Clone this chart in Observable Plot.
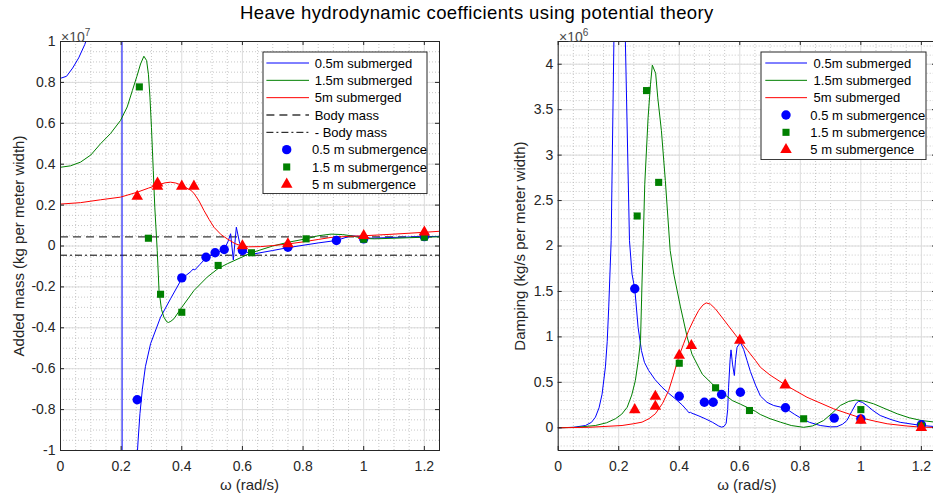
<!DOCTYPE html>
<html><head><meta charset="utf-8">
<script src="https://cdn.jsdelivr.net/npm/d3@7"></script>
<script src="https://cdn.jsdelivr.net/npm/@observablehq/plot@0.6"></script>
<style>
html,body{margin:0;padding:0;background:#fff;overflow:hidden}
#wrap{position:relative;width:933px;height:495px;overflow:hidden;font-family:"Liberation Sans",Arial,Helvetica,sans-serif;color:#262626}
.abs{position:absolute;white-space:nowrap}
</style></head><body><div id="wrap"></div>
<script>
// ---------- data ----------
const titleText = "Heave hydrodynamic coefficients using potential theory";
const xLabel = "ω (rad/s)";
const addedMassLabel = "Added mass (kg per meter width)";
const dampingLabel = "Damping (kg/s per meter width)";
const xTicks = [0, 0.2, 0.4, 0.6, 0.8, 1, 1.2];
const addedMassTicks = [-1, -0.8, -0.6, -0.4, -0.2, 0, 0.2, 0.4, 0.6, 0.8, 1];
const dampingTicks = [0, 0.5, 1, 1.5, 2, 2.5, 3, 3.5, 4];
const xDomain = [0, 1.25];
const addedMassDomain = [-1, 1];      // x 1e7
const dampingDomain = [-0.25, 4.25];  // x 1e6
const bodyMass = 0.045;               // x 1e7
const lineLabels = ["0.5m submerged", "1.5m submerged", "5m submerged"];
const bodyMassLabels = ["Body mass", "- Body mass"];
const markerLabels = ["0.5 m submergence", "1.5 m submergence", "5 m submergence"];

// Added mass curves (omega, value x1e7)
const amLine05 = [[0,0.82],[0.02,0.83],[0.04,0.87],[0.06,0.92],[0.08,0.985],[0.09,1.03],[0.12,1.3],[0.15,1.9],[0.18,3.5],[0.199,20],[0.207,-20],[0.24,-3],[0.252,-1.05],[0.256,-0.95],[0.262,-0.82],[0.27,-0.7],[0.28,-0.59],[0.297,-0.478],[0.33,-0.348],[0.363,-0.258],[0.40,-0.16],[0.43,-0.125],[0.437,-0.113],[0.443,-0.117],[0.46,-0.09],[0.48,-0.058],[0.51,-0.035],[0.54,-0.017],[0.552,0.02],[0.561,0.06],[0.57,-0.068],[0.58,0.092],[0.59,0.02],[0.6,-0.022],[0.633,-0.04],[0.7,-0.022],[0.75,-0.008],[0.85,0.015],[0.91,0.027],[0.958,0.05],[0.99,0.046],[1.024,0.038],[1.1,0.042],[1.2,0.046],[1.25,0.047]];
const amLine15 = [[0,0.385],[0.033,0.392],[0.066,0.41],[0.1,0.445],[0.132,0.5],[0.165,0.55],[0.198,0.614],[0.22,0.68],[0.237,0.76],[0.252,0.83],[0.264,0.89],[0.275,0.928],[0.284,0.907],[0.29,0.84],[0.295,0.728],[0.3,0.58],[0.306,0.369],[0.311,0.19],[0.319,-0.022],[0.325,-0.218],[0.333,-0.31],[0.341,-0.348],[0.35,-0.37],[0.356,-0.374],[0.364,-0.368],[0.374,-0.356],[0.40,-0.30],[0.44,-0.218],[0.484,-0.152],[0.52,-0.11],[0.55,-0.087],[0.63,-0.033],[0.7,0.0],[0.75,0.018],[0.81,0.035],[0.85,0.05],[0.892,0.058],[0.93,0.056],[0.958,0.05],[1.0,0.037],[1.035,0.035],[1.1,0.038],[1.2,0.043],[1.25,0.045]];
const amLine5 = [[0,0.205],[0.066,0.212],[0.132,0.226],[0.198,0.239],[0.253,0.263],[0.29,0.283],[0.32,0.298],[0.345,0.309],[0.363,0.312],[0.38,0.308],[0.40,0.297],[0.43,0.272],[0.44,0.258],[0.457,0.22],[0.473,0.174],[0.49,0.13],[0.506,0.092],[0.53,0.055],[0.55,0.035],[0.575,0.012],[0.594,0.002],[0.62,-0.004],[0.66,-0.003],[0.7,0.002],[0.75,0.01],[0.8,0.02],[0.85,0.032],[0.892,0.042],[0.95,0.047],[1.0,0.05],[1.1,0.058],[1.2,0.067],[1.25,0.072]];
// Added mass measured points
const amPts05 = [[0.253,-0.752],[0.40,-0.156],[0.48,-0.055],[0.51,-0.033],[0.54,-0.017],[0.60,-0.022],[0.75,-0.006],[0.91,0.027],[1.0,0.035],[1.2,0.046]];
const amPts15 = [[0.26,0.778],[0.29,0.038],[0.33,-0.236],[0.40,-0.324],[0.52,-0.095],[0.63,-0.033],[0.81,0.035],[1.0,0.033],[1.2,0.043]];
const amPts5 = [[0.253,0.242],[0.32,0.307],[0.32,0.291],[0.40,0.292],[0.44,0.292],[0.60,0.0],[0.75,0.01],[1.0,0.05],[1.2,0.068]];

// Damping curves (omega, value x1e6)
const dmLine05 = [[0,0],[0.05,0.005],[0.09,0.025],[0.11,0.06],[0.123,0.117],[0.135,0.22],[0.145,0.37],[0.156,0.67],[0.162,0.95],[0.167,1.33],[0.175,2.06],[0.184,4.25],[0.2,12],[0.222,4.25],[0.2355,2.06],[0.244,1.69],[0.253,1.53],[0.264,1.105],[0.275,0.85],[0.285,0.72],[0.299,0.63],[0.32,0.53],[0.343,0.446],[0.365,0.38],[0.387,0.319],[0.41,0.25],[0.426,0.19],[0.432,0.165],[0.437,0.17],[0.442,0.16],[0.465,0.13],[0.486,0.099],[0.51,0.06],[0.53,0.02],[0.54,0.007],[0.548,0.015],[0.555,0.05],[0.56,0.2],[0.563,0.446],[0.568,0.75],[0.571,0.857],[0.576,0.7],[0.582,0.575],[0.586,0.75],[0.591,0.886],[0.602,0.94],[0.613,0.86],[0.624,0.74],[0.635,0.62],[0.652,0.47],[0.668,0.35],[0.69,0.28],[0.712,0.245],[0.751,0.215],[0.78,0.15],[0.8,0.11],[0.83,0.06],[0.866,0.025],[0.9,0.01],[0.921,0.012],[0.94,0.04],[0.954,0.08],[0.97,0.18],[0.985,0.27],[0.993,0.292],[1.005,0.28],[1.02,0.245],[1.04,0.19],[1.064,0.135],[1.1,0.09],[1.13,0.06],[1.2,0.025],[1.25,0.012]];
const dmLine15 = [[0,0],[0.06,0.005],[0.123,0.025],[0.16,0.055],[0.189,0.099],[0.21,0.15],[0.228,0.226],[0.243,0.36],[0.255,0.52],[0.265,0.75],[0.272,0.96],[0.277,1.6],[0.281,2.06],[0.286,2.68],[0.297,3.41],[0.305,3.78],[0.311,3.99],[0.322,3.9],[0.329,3.63],[0.341,3.27],[0.354,2.72],[0.37,1.95],[0.382,1.69],[0.404,1.33],[0.426,1.0],[0.442,0.81],[0.476,0.59],[0.522,0.44],[0.575,0.30],[0.602,0.26],[0.652,0.18],[0.668,0.146],[0.7,0.1],[0.734,0.062],[0.77,0.025],[0.811,0.005],[0.84,0.02],[0.877,0.08],[0.905,0.16],[0.932,0.245],[0.96,0.29],[0.982,0.305],[1.01,0.295],[1.042,0.264],[1.08,0.21],[1.12,0.154],[1.16,0.11],[1.2,0.08],[1.25,0.06]];
const dmLine5 = [[0,0],[0.1,0.005],[0.211,0.025],[0.25,0.045],[0.277,0.062],[0.3,0.1],[0.321,0.154],[0.345,0.27],[0.365,0.41],[0.38,0.57],[0.398,0.776],[0.415,0.93],[0.431,1.07],[0.448,1.19],[0.464,1.29],[0.478,1.35],[0.489,1.374],[0.503,1.36],[0.519,1.31],[0.54,1.22],[0.563,1.12],[0.6,0.96],[0.626,0.85],[0.652,0.74],[0.668,0.666],[0.7,0.58],[0.751,0.47],[0.822,0.336],[0.91,0.209],[0.998,0.11],[1.05,0.07],[1.087,0.044],[1.15,0.02],[1.2,0.007],[1.25,0.003]];
// Damping measured points
const dmPts05 = [[0.253,1.53],[0.40,0.347],[0.483,0.281],[0.512,0.281],[0.54,0.366],[0.602,0.391],[0.751,0.22],[0.912,0.106],[1.0,0.098],[1.2,0.033]];
const dmPts15 = [[0.261,2.33],[0.292,3.71],[0.332,2.70],[0.40,0.71],[0.52,0.44],[0.632,0.19],[0.811,0.099],[1.0,0.20],[1.2,0.02]];
const dmPts5 = [[0.253,0.198],[0.321,0.344],[0.321,0.234],[0.40,0.795],[0.44,0.904],[0.60,0.96],[0.75,0.47],[1.0,0.08],[1.2,0.0]];

// ---------- style ----------
const FONT = '"Liberation Sans", Arial, Helvetica, sans-serif';
const INK = "#262626";
const COLORS = ["#0000ff", "#008000", "#ff0000"];
const SYMBOLS = ["circle", "square", "triangle"];
const SYM_R = [4.7, 4.0, 4.3];
const H = 495, MT = 41, MB = 45;
const FH = H - MT - MB;

const fmt = d => String(Math.round(d * 10) / 10);
const minorX = d3.range(0, 1.2501, 0.05).filter(v => !xTicks.some(t => Math.abs(t - v) < 1e-6));

function panel({width, marginLeft, marginRight, yDomain, yTicks, yMinor, lines, pts, extra}) {
  const tickLen = 4;
  return Plot.plot({
    width, height: H, marginLeft, marginRight, marginTop: MT, marginBottom: MB,
    style: {background: "white", color: INK, fontFamily: FONT, fontSize: "14px"},
    x: {domain: xDomain, ticks: xTicks, tickSize: 0, tickPadding: 11, tickFormat: fmt, label: null},
    y: {domain: yDomain, ticks: yTicks, tickSize: 0, tickPadding: 5, tickFormat: fmt, label: null},
    marks: [
      Plot.ruleX(minorX, {x: d => d, stroke: "#b0b0b0", strokeWidth: 0.7, strokeDasharray: "1,2"}),
      Plot.ruleY(yMinor, {y: d => d, stroke: "#b0b0b0", strokeWidth: 0.7, strokeDasharray: "1,2"}),
      Plot.ruleX(xTicks, {x: d => d, stroke: "#dcdcdc", strokeWidth: 1}),
      Plot.ruleY(yTicks, {y: d => d, stroke: "#dcdcdc", strokeWidth: 1}),
      ...extra,
      ...lines.map((s, i) => Plot.line(s, {x: d => d[0], y: d => d[1], stroke: COLORS[i], strokeWidth: 1, clip: true})),
      ...pts.map((s, i) => Plot.dot(s, {x: d => d[0], y: d => d[1], symbol: SYMBOLS[i], r: SYM_R[i], fill: COLORS[i], stroke: "none"})),
      Plot.tickX(xTicks, {x: d => d, insetTop: FH - tickLen, stroke: INK}),
      Plot.tickX(xTicks, {x: d => d, insetBottom: FH - tickLen, stroke: INK}),
      Plot.tickY(yTicks, {y: d => d, insetRight: (width - marginLeft - marginRight) - tickLen, stroke: INK}),
      Plot.tickY(yTicks, {y: d => d, insetLeft: (width - marginLeft - marginRight) - tickLen, stroke: INK}),
      Plot.frame({stroke: INK, strokeWidth: 1})
    ]
  });
}

const wrap = document.getElementById("wrap");
function place(el, left, top) { el.style.position = "absolute"; el.style.left = left + "px"; el.style.top = top + "px"; wrap.appendChild(el); return el; }
function textDiv(html, left, top, css) { const d = document.createElement("div"); d.className = "abs"; d.innerHTML = html; Object.assign(d.style, css || {}); return place(d, left, top); }

// left panel: added mass
const left = panel({
  width: 466, marginLeft: 60, marginRight: 27,
  yDomain: addedMassDomain, yTicks: addedMassTicks,
  yMinor: d3.range(-1, 1.0001, 0.05),
  lines: [amLine05, amLine15, amLine5], pts: [amPts05, amPts15, amPts5],
  extra: [
    Plot.ruleY([bodyMass], {y: d => d, stroke: "#3a3a3a", strokeWidth: 1.3, strokeDasharray: "8,5"}),
    Plot.ruleY([-bodyMass], {y: d => d, stroke: "#000", strokeWidth: 1, strokeDasharray: "7,3,2,3"})
  ]
});
place(left, 0, 0);

// right panel: damping
const right = panel({
  width: 480, marginLeft: 91.7, marginRight: 10,
  yDomain: dampingDomain, yTicks: dampingTicks,
  yMinor: d3.range(-0.2, 4.2501, 0.1),
  lines: [dmLine05, dmLine15, dmLine5], pts: [dmPts05, dmPts15, dmPts5],
  extra: []
});
place(right, 466, 0);

// titles & labels
textDiv(titleText, 240, 2, {fontSize: "18.5px", lineHeight: "21px", letterSpacing: "0.4px", color: "#000"});
textDiv("×10<span style='font-size:10px;vertical-align:6px'>7</span>", 61, 25, {fontSize: "14px", lineHeight: "16px", color: "#4a4a4a"});
textDiv("×10<span style='font-size:10px;vertical-align:6px'>6</span>", 559, 25, {fontSize: "14px", lineHeight: "16px", color: "#4a4a4a"});
textDiv(xLabel, 249.5, 476, {fontSize: "15px", transform: "translateX(-50%)"});
textDiv(xLabel, 746.8, 476, {fontSize: "15px", transform: "translateX(-50%)"});
textDiv(addedMassLabel, 17.5, 245.5, {fontSize: "15px", transform: "translate(-50%,-50%) rotate(-90deg)"});
textDiv(dampingLabel, 519, 245.5, {fontSize: "15px", transform: "translate(-50%,-50%) rotate(-90deg)"});

// legends
function legend(left, top, w, h, rows, firstY, stepY, lx1, lx2, mx, txLine, txMark) {
  const svg = d3.create("svg").attr("width", w + 2).attr("height", h + 2)
    .style("position", "absolute").style("left", (left - 1) + "px").style("top", (top - 1) + "px")
    .style("font-family", FONT).style("font-size", "13px");
  svg.append("rect").attr("x", 1).attr("y", 1).attr("width", w).attr("height", h)
    .attr("fill", "white").attr("stroke", INK).attr("stroke-width", 1);
  rows.forEach((r, i) => {
    const y = 1 + firstY + i * stepY;
    const g = svg.append("g");
    if (r.kind === "line") {
      g.append("line").attr("x1", 1 + lx1).attr("x2", 1 + lx2).attr("y1", y).attr("y2", y)
        .attr("stroke", r.color).attr("stroke-width", r.width || 1).attr("stroke-dasharray", r.dash || null);
    } else {
      const sym = {circle: d3.symbolCircle, square: d3.symbolSquare, triangle: d3.symbolTriangle}[r.symbol];
      g.append("path").attr("transform", `translate(${1 + mx},${y})`)
        .attr("d", d3.symbol(sym, Math.PI * r.r * r.r)()).attr("fill", r.color);
    }
    g.append("text").attr("x", 1 + (r.kind === "line" ? txLine : txMark)).attr("y", y).attr("dy", "0.35em")
      .attr("fill", "#000").text(r.label);
  });
  wrap.appendChild(svg.node());
}
const seriesLineRows = lineLabels.map((l, i) => ({kind: "line", label: l, color: COLORS[i]}));
const markRows = markerLabels.map((l, i) => ({kind: "mark", label: l, color: COLORS[i], symbol: SYMBOLS[i], r: SYM_R[i]}));
legend(263.3, 51.7, 164, 141.6, [
  ...seriesLineRows,
  {kind: "line", label: bodyMassLabels[0], color: "#3a3a3a", dash: "8,5", width: 1.3},
  {kind: "line", label: bodyMassLabels[1], color: "#000", dash: "7,3,2,3"},
  ...markRows
], 11, 17.33, 3.4, 46, 23.7, 51.7, 49);
legend(760.7, 51.7, 165, 107.6, [...seriesLineRows, ...markRows], 11, 17.33, 4.3, 46, 25, 52.6, 49.3);
</script></body></html>
